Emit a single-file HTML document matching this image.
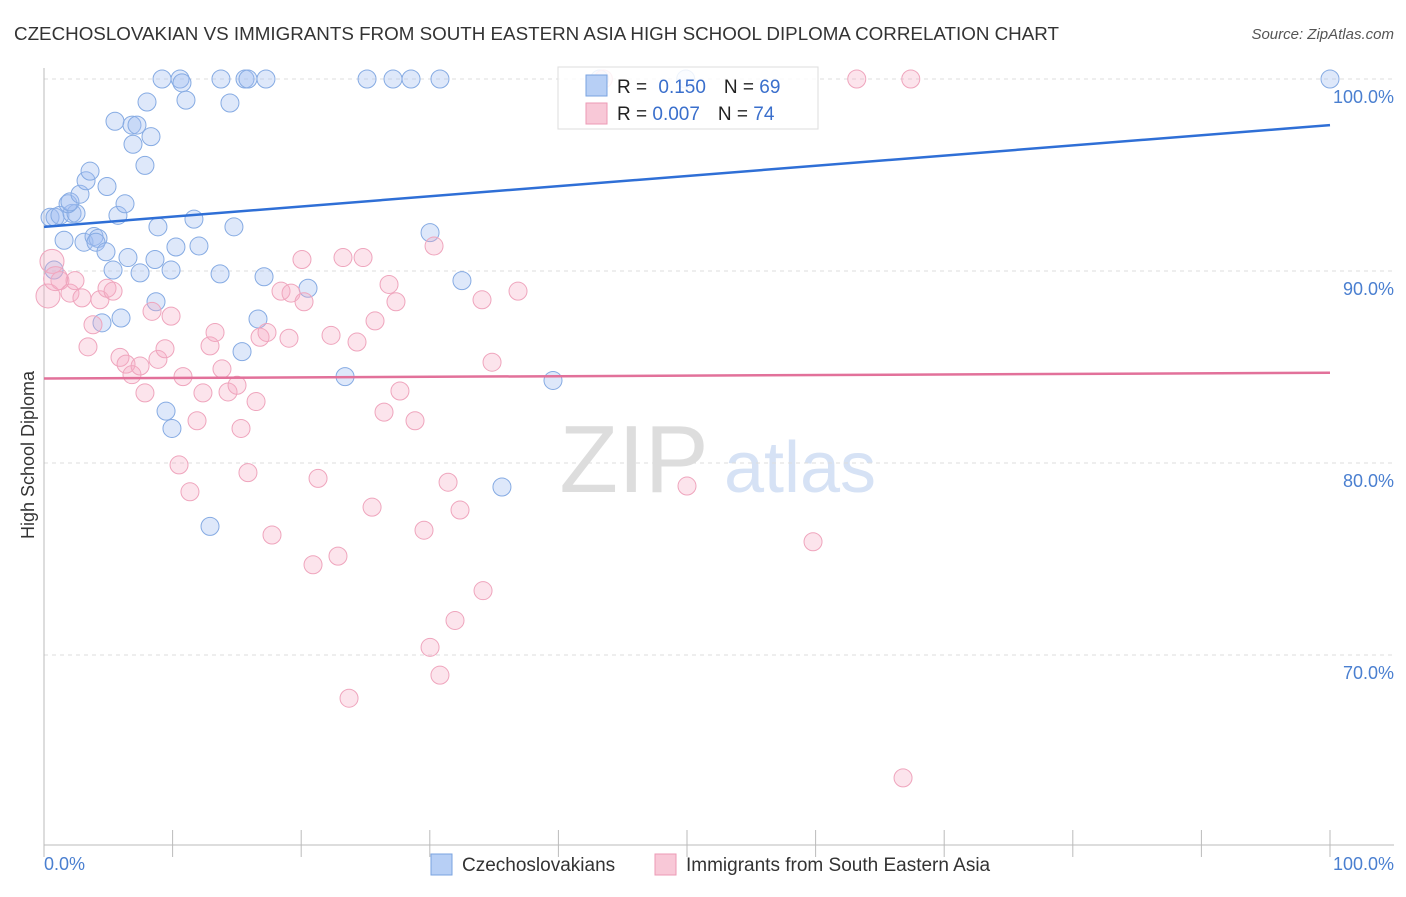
<!DOCTYPE html>
<html><head><meta charset="utf-8"><style>
body{margin:0;background:#fff;font-family:"Liberation Sans",sans-serif}
svg text{font-family:"Liberation Sans",sans-serif}
</style></head><body>
<svg id="c" width="1406" height="892">
<text x="14" y="40" font-size="18.8" fill="#333">CZECHOSLOVAKIAN VS IMMIGRANTS FROM SOUTH EASTERN ASIA HIGH SCHOOL DIPLOMA CORRELATION CHART</text>
<text x="1394" y="39" font-size="15" fill="#555" font-style="italic" text-anchor="end">Source: ZipAtlas.com</text>
<text x="634" y="492" font-size="96" fill="#ddd" font-family="Liberation Serif" text-anchor="middle">ZIP</text>
<text x="800" y="492" font-size="72" fill="#d6e2f5" text-anchor="middle">atlas</text>
<g id="grid"></g><g id="pts"></g><g id="lines"></g>
<text transform="translate(34,455) rotate(-90)" font-size="18" fill="#333" text-anchor="middle">High School Diploma</text>
<text x="44" y="870" font-size="18" fill="#4a7fd0">0.0%</text>
<text x="1394" y="870" font-size="18" fill="#4a7fd0" text-anchor="end">100.0%</text>
<g>
<rect x="558" y="67" width="260" height="62" fill="rgba(255,255,255,0.85)" stroke="#ddd"/>
<rect x="586" y="75" width="21" height="21" fill="#b7cff5" stroke="#7aa3e0"/>
<rect x="586" y="103" width="21" height="21" fill="#f8c8d7" stroke="#ec9ab5"/>
<text x="617" y="93" font-size="19" fill="#222">R = <tspan fill="#3a6fcc" dx="6">0.150</tspan><tspan dx="18" fill="#222">N = </tspan><tspan fill="#3a6fcc">69</tspan></text>
<text x="617" y="120" font-size="19" fill="#222">R = <tspan fill="#3a6fcc">0.007</tspan><tspan dx="18" fill="#222">N = </tspan><tspan fill="#3a6fcc">74</tspan></text>
</g>
<g>
<rect x="431" y="854" width="21" height="21" fill="#b7cff5" stroke="#7aa3e0"/>
<text x="462" y="871" font-size="19" fill="#333">Czechoslovakians</text>
<rect x="655" y="854" width="21" height="21" fill="#f8c8d7" stroke="#ec9ab5"/>
<text x="686" y="871" font-size="19" fill="#333">Immigrants from South Eastern Asia</text>
</g>
</svg>
<script>
const yTicks=[100,90,80,70];
const yTickLabels=["100.0%","90.0%","80.0%","70.0%"];
const xTicks=[0,10,20,30,40,50,60,70,80,90,100];
const blueX=[0.47,0.86,1.24,2.18,2.49,1.87,2.02,2.80,3.27,3.58,4.90,1.56,3.11,3.89,4.20,4.04,4.82,5.75,6.30,5.52,6.84,7.23,6.92,8.32,8.01,7.85,9.18,10.58,10.73,11.04,13.76,14.46,15.63,15.86,17.26,25.12,27.14,28.54,30.79,100,6.53,7.47,5.37,8.63,8.86,9.88,10.26,12.05,11.66,14.77,13.69,17.11,20.53,8.71,5.99,4.51,16.64,15.40,9.49,9.95,12.91,23.41,30.02,32.5,39.58,35.61,0.78,43.2,49.9];
const blueY=[92.8,92.8,92.9,93.0,93.0,93.5,93.6,94.0,94.7,95.2,94.4,91.6,91.5,91.8,91.7,91.5,91.0,92.9,93.5,97.8,97.6,97.6,96.6,97.0,98.8,95.5,100,100,99.8,98.9,100,98.75,100,100,100,100,100,100,100,100,90.7,89.9,90.05,90.6,92.3,90.05,91.25,91.3,92.7,92.3,89.85,89.7,89.1,88.4,87.55,87.3,87.5,85.8,82.7,81.8,76.7,84.5,92.0,89.5,84.3,78.75,90.05,100,100];
const pinkX=[0.31,0.62,1.24,2.02,2.41,2.95,4.35,4.90,5.37,3.81,3.42,5.91,6.38,6.84,7.47,7.85,8.40,8.86,9.41,9.88,10.81,10.50,11.35,11.90,12.36,12.91,13.30,13.84,14.31,15.01,15.32,15.86,16.49,16.80,17.34,17.73,18.43,19.21,19.05,20.22,20.06,21.31,20.92,22.86,22.32,23.25,24.81,24.34,25.74,25.51,26.44,26.83,27.37,27.68,28.85,29.55,30.33,31.42,32.35,31.96,30.02,30.79,23.72,34.14,34.06,34.84,36.86,50.0,59.8,63.2,67.4,66.8,43.5,0.9];
const pinkY=[88.7,90.5,89.5,88.85,89.5,88.6,88.5,89.1,88.95,87.2,86.05,85.5,85.15,84.6,85.05,83.65,87.9,85.4,85.95,87.65,84.5,79.9,78.5,82.2,83.65,86.1,86.8,84.9,83.7,84.05,81.8,79.5,83.2,86.55,86.8,76.25,88.95,88.85,86.5,88.4,90.6,79.2,74.7,75.15,86.65,90.7,90.7,86.3,87.4,77.7,82.65,89.3,88.4,83.75,82.2,76.5,91.3,79.0,77.55,71.8,70.4,68.95,67.75,73.35,88.5,85.25,88.95,78.8,75.9,100,100,63.6,100,89.6];
const blueTrend=[92.3,97.6];
const pinkTrend=[84.4,84.7];
const NS="http://www.w3.org/2000/svg";
const xs=v=>44+v*12.86, ys=v=>79+(100-v)*19.2;
function mk(t,a,p){const e=document.createElementNS(NS,t);for(const k in a)e.setAttribute(k,a[k]);p.appendChild(e);return e;}
const g=document.getElementById('grid');
yTicks.forEach((t,i)=>{
 const l=mk('line',{x1:44,x2:1394,y1:ys(t),y2:ys(t),stroke:'#ddd','stroke-dasharray':'4,4'},g);
 
 
 const tx=mk('text',{x:1394,y:ys(t)+24,'font-size':18,fill:'#4a7fd0','text-anchor':'end'},g);
 tx.textContent=yTickLabels[i];
 
 
});
const ax=mk('line',{x1:44,x2:44,y1:68,y2:845,stroke:'#bbb'},g);


const bx=mk('line',{x1:44,x2:1394,y1:845,y2:845,stroke:'#bbb'},g);


xTicks.forEach(t=>{
 const l=mk('line',{x1:xs(t),x2:xs(t),y1:830,y2:857,stroke:'#bbb'},g);
 
 
});
const p=document.getElementById('pts');
blueX.forEach((x,i)=>{
 const c=mk('circle',{cx:xs(x),cy:ys(blueY[i]),r:9,fill:'rgba(160,190,240,0.35)',stroke:'#86abe3','stroke-width':1},p);
 
 
});
pinkX.forEach((x,i)=>{
 const c=mk('circle',{cx:xs(x),cy:ys(pinkY[i]),r:(i<2||i==73)?12:9,fill:'rgba(245,170,195,0.32)',stroke:'#efa5bd','stroke-width':1},p);
 
 
});
const L=document.getElementById('lines');
const b=mk('line',{x1:xs(0),x2:xs(100),y1:ys(blueTrend[0]),y2:ys(blueTrend[1]),stroke:'#2f6fd6','stroke-width':2.5},L);


const q=mk('line',{x1:xs(0),x2:xs(100),y1:ys(pinkTrend[0]),y2:ys(pinkTrend[1]),stroke:'#e2719a','stroke-width':2.5},L);


</script>
</body></html>
